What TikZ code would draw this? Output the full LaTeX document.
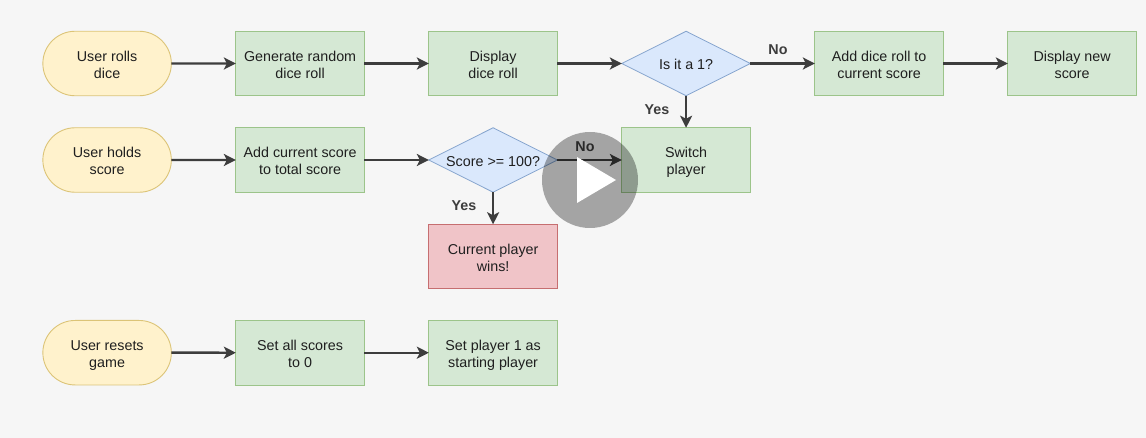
\documentclass[tikz,border=0pt]{standalone}
\usepackage{fontspec}
\setmainfont{Liberation Sans}
\usetikzlibrary{shapes.geometric,shapes.misc,arrows.meta}
\definecolor{bgc}{HTML}{F6F6F6}
\definecolor{txt}{HTML}{1F1F1F}
\definecolor{edgec}{HTML}{3D3D3D}
\definecolor{yf}{HTML}{FFF2CC}\definecolor{yd}{HTML}{DCC477}
\definecolor{gf}{HTML}{D5E8D4}\definecolor{gd}{HTML}{9CC48A}
\definecolor{bf}{HTML}{DAE8FC}\definecolor{bd}{HTML}{86A5CE}
\definecolor{rf}{HTML}{F0C4C8}\definecolor{rd}{HTML}{C66E70}
\newcommand{\tx}[1]{\rule{0pt}{17pt}#1}
\newcommand{\bx}[1]{#1\rule[-4pt]{0pt}{4pt}}
\newcommand{\dx}[1]{\raisebox{-6.5pt}[0pt][0pt]{#1}}
\tikzset{
 every node/.style={font=\fontsize{14.3}{17}\selectfont,text=txt,align=center,inner sep=0pt,outer sep=0pt},
 startbox/.style={draw=yd,fill=yf,line width=0.9pt,rounded rectangle,minimum width=128.5pt,minimum height=64.5pt},
 procbox/.style={draw=gd,fill=gf,line width=0.9pt,minimum width=128.5pt,minimum height=64.5pt},
 winbox/.style={draw=rd,fill=rf,line width=0.9pt,minimum width=128.5pt,minimum height=64.5pt},
 decbox/.style={draw=bd,fill=bf,line width=0.8pt,diamond,aspect=2,minimum width=128.5pt,minimum height=64.5pt},
 flow/.style={draw=edgec,line width=2.4pt,-{Stealth[length=12pt,width=12pt,inset=3pt]}},
 tag/.style={font=\fontsize{14.3}{17}\selectfont\bfseries,text=edgec},
}
\begin{document}
\begin{tikzpicture}[x=1pt,y=-1pt]
\useasboundingbox[fill=bgc] (0,0) rectangle (1146,438);
\node[startbox] (s1) at (107.1,63.5) {\tx{User rolls}\\\bx{dice}};
\node[procbox] (gen) at (300.1,63.5) {\tx{Generate random}\\\bx{dice roll}};
\node[procbox] (disp) at (493.1,63.5) {\tx{Display}\\\bx{dice roll}};
\node[decbox] (one) at (686.1,63.5) {\dx{Is it a 1?}};
\node[procbox] (add) at (879.1,63.5) {\tx{Add dice roll to}\\\bx{current score}};
\node[procbox] (new) at (1072.1,63.5) {\tx{Display new}\\\bx{score}};
\node[startbox] (s2) at (107.1,160) {\tx{User holds}\\\bx{score}};
\node[procbox] (tot) at (300.1,160) {\tx{Add current score}\\\bx{to total score}};
\node[decbox] (hund) at (493.1,160) {\dx{Score >= 100?}};
\node[procbox] (sw) at (686.1,160) {\tx{Switch}\\\bx{player}};
\node[winbox] (win) at (493.1,256.5) {\tx{Current player}\\\bx{wins!}};
\node[startbox] (s3) at (107.1,352.7) {\tx{User resets}\\\bx{game}};
\node[procbox] (zero) at (300.1,352.7) {\tx{Set all scores}\\\bx{to 0}};
\node[procbox] (first) at (493.1,352.7) {\tx{Set player 1 as}\\\bx{starting player}};
\draw[flow] (s1) -- (gen);
\draw[flow] (gen) -- (disp);
\draw[flow] (disp) -- (one);
\draw[flow] (one) -- (add);
\draw[flow] (add) -- (new);
\draw[flow] (one) -- (sw);
\draw[flow] (s2) -- (tot);
\draw[flow] (tot) -- (hund);
\draw[flow] (hund) -- (sw);
\draw[flow] (hund) -- (win);
\draw[flow] (s3) -- (zero);
\draw[flow] (zero) -- (first);
\node[tag] (no1) at (778,50) {No};
\node[tag] (yes1) at (657,110) {Yes};
\node[tag] (no2) at (585,147) {No};
\node[tag] (yes2) at (464,206) {Yes};
\fill[black,opacity=0.33] (590,180) circle (48);
\fill[white] (577,157) -- (616,180) -- (577,203) -- cycle;
\end{tikzpicture}
\end{document}
